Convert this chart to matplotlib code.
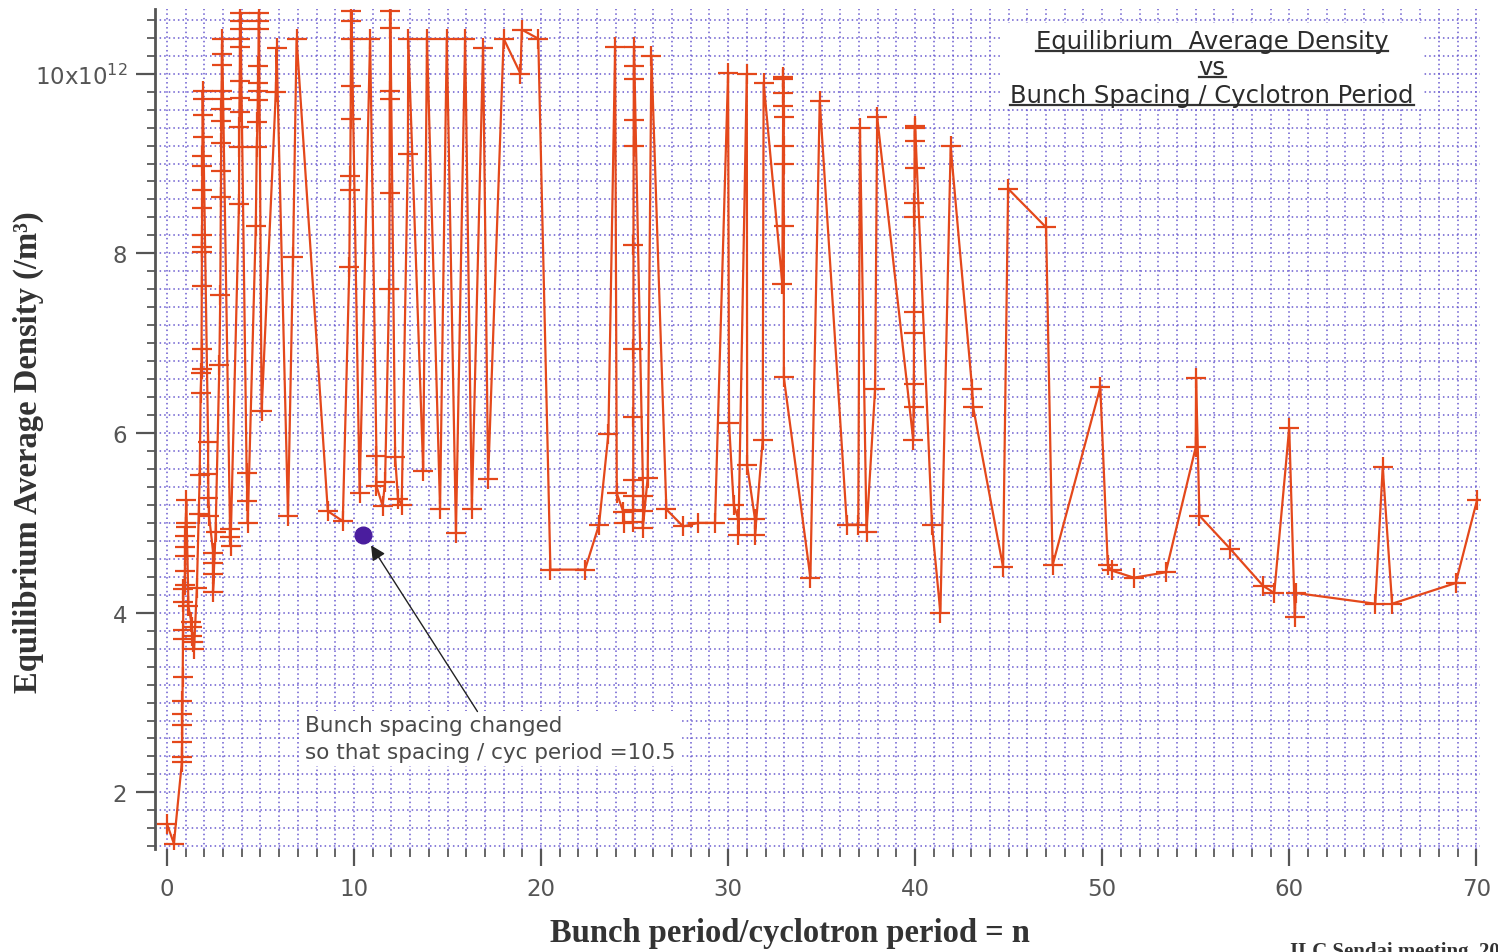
import matplotlib
matplotlib.use("Agg")
import matplotlib.pyplot as plt
from matplotlib.ticker import MultipleLocator, FixedLocator
from matplotlib.lines import Line2D
from matplotlib.patches import Rectangle

# Bunch period / cyclotron period (n) and equilibrium average density (units of 1e12 /m^3)
n_ratio = [
    0.0, 0.37, 0.8, 0.8, 0.81, 0.82, 0.82, 0.83, 0.84, 0.85, 0.86, 0.87, 0.88,
    0.95, 0.96, 0.97, 0.98, 0.99, 1.0, 1.01, 1.03,
    1.15, 1.3, 1.33, 1.36, 1.4, 1.45,
    1.6, 1.7, 1.75, 1.8, 1.84, 1.85, 1.85, 1.86, 1.87, 1.87, 1.87, 1.88, 1.88,
    1.89, 1.89, 1.9, 1.9, 1.91, 1.91,
    2.2, 2.2, 2.22, 2.25, 2.47, 2.47, 2.48, 2.46,
    2.6, 2.8, 2.85, 2.88, 2.89, 2.9, 2.91, 2.91, 2.92, 2.92, 2.93, 2.94, 2.95,
    3.37, 3.37, 3.4,
    3.85, 3.86, 3.87, 3.88, 3.88, 3.89, 3.9, 3.9, 3.91, 3.92, 3.93,
    4.26, 4.3, 4.32,
    4.75, 4.8, 4.84, 4.86, 4.87, 4.88, 4.89, 4.9, 4.91, 4.92,
    5.06, 5.82, 5.86, 6.47, 6.74, 6.93, 8.6, 9.4,
    9.75, 9.78, 9.8, 9.82, 9.83, 9.84, 9.85, 9.86,
    10.3, 10.86, 11.2, 11.2, 11.53, 11.66,
    11.88, 11.9, 11.91, 11.92, 11.93, 11.94,
    12.2, 12.35, 12.55, 12.88, 12.9, 13.7, 13.9, 14.6, 14.96, 15.45,
    15.94, 16.3, 16.9, 17.17,
    18.0, 18.9, 18.97, 19.85, 20.5, 22.35, 23.1, 23.6, 23.96,
    24.05, 24.4, 24.45,
    24.9, 24.92, 24.92, 24.93, 24.93, 24.94, 24.94, 24.95, 24.95, 24.96, 24.96, 24.97,
    25.46, 25.46, 25.44, 25.7, 25.9, 26.7, 27.6, 28.4, 29.3,
    30.0, 30.05, 30.3, 30.55, 30.55, 31.0, 31.02, 31.44, 31.44, 31.85, 31.9,
    32.9, 32.95, 32.95, 32.96, 32.96, 32.97, 32.97, 32.97, 32.98, 32.98,
    34.4, 34.9, 36.35, 36.96, 37.05, 37.4, 37.86, 37.97,
    39.9, 39.92, 39.93, 39.94, 39.95, 39.96, 39.96, 39.97, 39.97, 39.98, 40.0,
    40.9, 41.35, 41.9, 43.05, 43.1, 44.7, 44.97, 47.0, 47.35, 49.9, 50.3, 50.5,
    51.7, 53.4, 55.0, 55.02, 55.2, 56.85, 58.6, 59.2, 60.0, 60.3, 60.35,
    64.6, 65.0, 65.5, 68.9, 70.05,
]
density = [
    1.65, 1.43, 2.34, 2.39, 2.56, 2.75, 2.87, 3.02, 3.29, 3.71, 3.81, 4.12, 4.26,
    4.31, 4.46, 4.63, 4.73, 4.85, 4.95, 5.0, 5.26,
    4.07, 3.9, 3.84, 3.74, 3.67, 3.6,
    4.28, 5.1, 5.53, 6.45, 6.67, 6.71, 6.93, 7.64, 8.01, 8.07, 8.2, 8.5, 8.71,
    8.97, 9.08, 9.3, 9.54, 9.72, 9.81,
    5.9, 5.54, 5.28, 5.08, 4.67, 4.55, 4.43, 4.23,
    4.9, 6.76, 7.54, 8.63, 8.92, 9.23, 9.47, 9.61, 9.72, 9.81, 10.1, 10.22, 10.39,
    4.93, 4.84, 4.74,
    8.55, 9.18, 9.41, 9.57, 9.73, 9.92, 10.3, 10.39, 10.5, 10.59, 10.68,
    5.55, 5.24, 5.0,
    8.31, 9.18, 9.46, 9.71, 9.81, 9.9, 10.09, 10.5, 10.59, 10.68,
    6.24, 9.8, 10.29, 5.08, 7.96, 10.39, 5.13, 5.02,
    7.85, 8.71, 8.86, 9.5, 9.86, 10.39, 10.59, 10.7,
    5.33, 10.39, 5.75, 5.41, 5.19, 5.46,
    7.6, 8.67, 9.72, 9.81, 10.51, 10.7,
    5.73, 5.27, 5.2, 9.11, 10.39, 5.58, 10.39, 5.16, 10.39, 4.89,
    10.39, 5.16, 10.29, 5.49,
    10.39, 10.0, 10.49, 10.39, 4.48, 4.48, 4.98, 5.99, 10.3,
    5.33, 5.12, 5.0,
    5.01, 5.14, 5.3, 5.48, 6.18, 6.93, 8.09, 9.2, 9.48, 9.94, 10.09, 10.3,
    5.3, 5.13, 4.94, 5.5, 10.2, 5.15, 4.96, 5.0, 5.0,
    10.01, 6.11, 5.2, 5.04, 4.86, 10.0, 5.64, 5.04, 4.86, 5.92, 9.9,
    7.66, 9.96, 9.94, 9.79, 9.64, 9.52, 9.19, 9.0, 8.3, 6.62,
    4.39, 9.7, 4.98, 4.98, 9.39, 4.9, 6.49, 9.52,
    5.92, 6.29, 6.55, 7.11, 7.35, 8.4, 8.56, 8.95, 9.25, 9.39, 9.42,
    4.98, 4.0, 9.19, 6.49, 6.29, 4.51, 8.72, 8.29, 4.53, 6.51, 4.53, 4.47,
    4.39, 4.45, 5.84, 6.61, 5.08, 4.71, 4.3, 4.22, 6.06, 3.95, 4.22,
    4.1, 5.62, 4.1, 4.33, 5.26,
]

# Operating point after the bunch-spacing change
changed_n = [10.46]
changed_density = [4.87]

x_ticks = [0, 10, 20, 30, 40, 50, 60, 70]
x_tick_labels = ["0", "10", "20", "30", "40", "50", "60", "70"]
y_ticks = [2, 4, 6, 8, 10]
y_tick_labels = ["2", "4", "6", "8", r"10x10$^{12}$"]

title_lines = ["Equilibrium  Average Density", "vs", "Bunch Spacing / Cyclotron Period"]
note_text = "Bunch spacing changed\nso that spacing / cyc period =10.5"
x_label = "Bunch period/cyclotron period = n"
y_label = "Equilibrium Average Density (/m\u00b3)"
footer = "ILC Sendai meeting, 2008"

W, H = 1498, 953
fig = plt.figure(figsize=(W / 100, H / 100), dpi=100)
fig.patch.set_facecolor("white")

ax = fig.add_axes([155 / W, 1 - 850 / H, 1325 / W, 840 / H])
ax.set_xlim(-0.64, 70.2)
ax.set_ylim(1.37, 10.72)

for side in ("top", "right", "bottom"):
    ax.spines[side].set_visible(False)
ax.spines["left"].set_color("#555555")
ax.spines["left"].set_linewidth(2)

ax.xaxis.set_major_locator(FixedLocator(x_ticks))
ax.set_xticklabels(x_tick_labels)
ax.xaxis.set_minor_locator(MultipleLocator(1))
ax.yaxis.set_major_locator(FixedLocator(y_ticks))
ax.set_yticklabels(y_tick_labels)
ax.yaxis.set_minor_locator(MultipleLocator(0.2))

ax.tick_params(axis="both", which="major", direction="out", color="#555555",
               labelcolor="#555555", labelsize=16.5, width=1.6)
ax.tick_params(axis="x", which="major", length=12, pad=8)
ax.tick_params(axis="y", which="major", length=14, pad=6)
ax.tick_params(axis="both", which="minor", direction="out", color="#666666",
               length=6, width=1.4)

ax.grid(which="both", color="#6a5bd0", linestyle=(0, (1, 2)), linewidth=1.1)
ax.set_axisbelow(True)

ax.plot(n_ratio, density, color="#e4481b", linewidth=1.6, marker="+",
        markersize=14, markeredgewidth=1.6, zorder=3)
ax.plot(changed_n, changed_density, "o", color="#4a1d9e", markersize=12, zorder=4)

ax.annotate("", xy=(changed_n[0] + 0.45, changed_density[0] - 0.12),
            xytext=(16.6, 2.9),
            arrowprops=dict(arrowstyle="-|>", color="#222222", lw=1.0,
                            mutation_scale=22, shrinkA=0, shrinkB=0), zorder=6)

ax.text(7.38, 2.86, note_text, fontsize=15.5, color="#4a4a4a", va="top", ha="left",
        linespacing=1.45, family="DejaVu Sans",
        bbox=dict(facecolor="white", edgecolor="none", pad=3), zorder=5)

# Title block in the upper right
fig.add_artist(Rectangle((1001 / W, 1 - 110 / H), 421 / W, 86 / H,
                         transform=fig.transFigure, facecolor="white",
                         edgecolor="none", zorder=2))
baselines = [49, 75, 103]
title_texts = []
for line, yb in zip(title_lines, baselines):
    t = fig.text(1212 / W, 1 - yb / H, line, ha="center", va="baseline",
                 fontsize=17.5, color="#2c2c2c", family="DejaVu Sans", zorder=3)
    title_texts.append((t, yb))

fig.text(28 / W, 1 - 452 / H, y_label, rotation=90, ha="center", va="center",
         fontsize=23.5, fontweight="bold", family="Liberation Serif", color="#333333")
fig.text(790 / W, 1 - 934 / H, x_label, ha="center", va="center",
         fontsize=23.5, fontweight="bold", family="Liberation Serif", color="#333333")
fig.text(1290 / W, -4 / H, footer, ha="left", va="baseline",
         fontsize=15, fontweight="bold", family="Liberation Serif", color="#333333")

# Underline each title line
fig.canvas.draw()
renderer = fig.canvas.get_renderer()
for t, yb in title_texts:
    bb = t.get_window_extent(renderer)
    yu = 1 - (yb + 3) / H
    fig.add_artist(Line2D([bb.x0 / W, bb.x1 / W], [yu, yu], transform=fig.transFigure,
                          color="#333333", linewidth=1.6, zorder=3))

fig.savefig("out.png", dpi=100, facecolor="white")
